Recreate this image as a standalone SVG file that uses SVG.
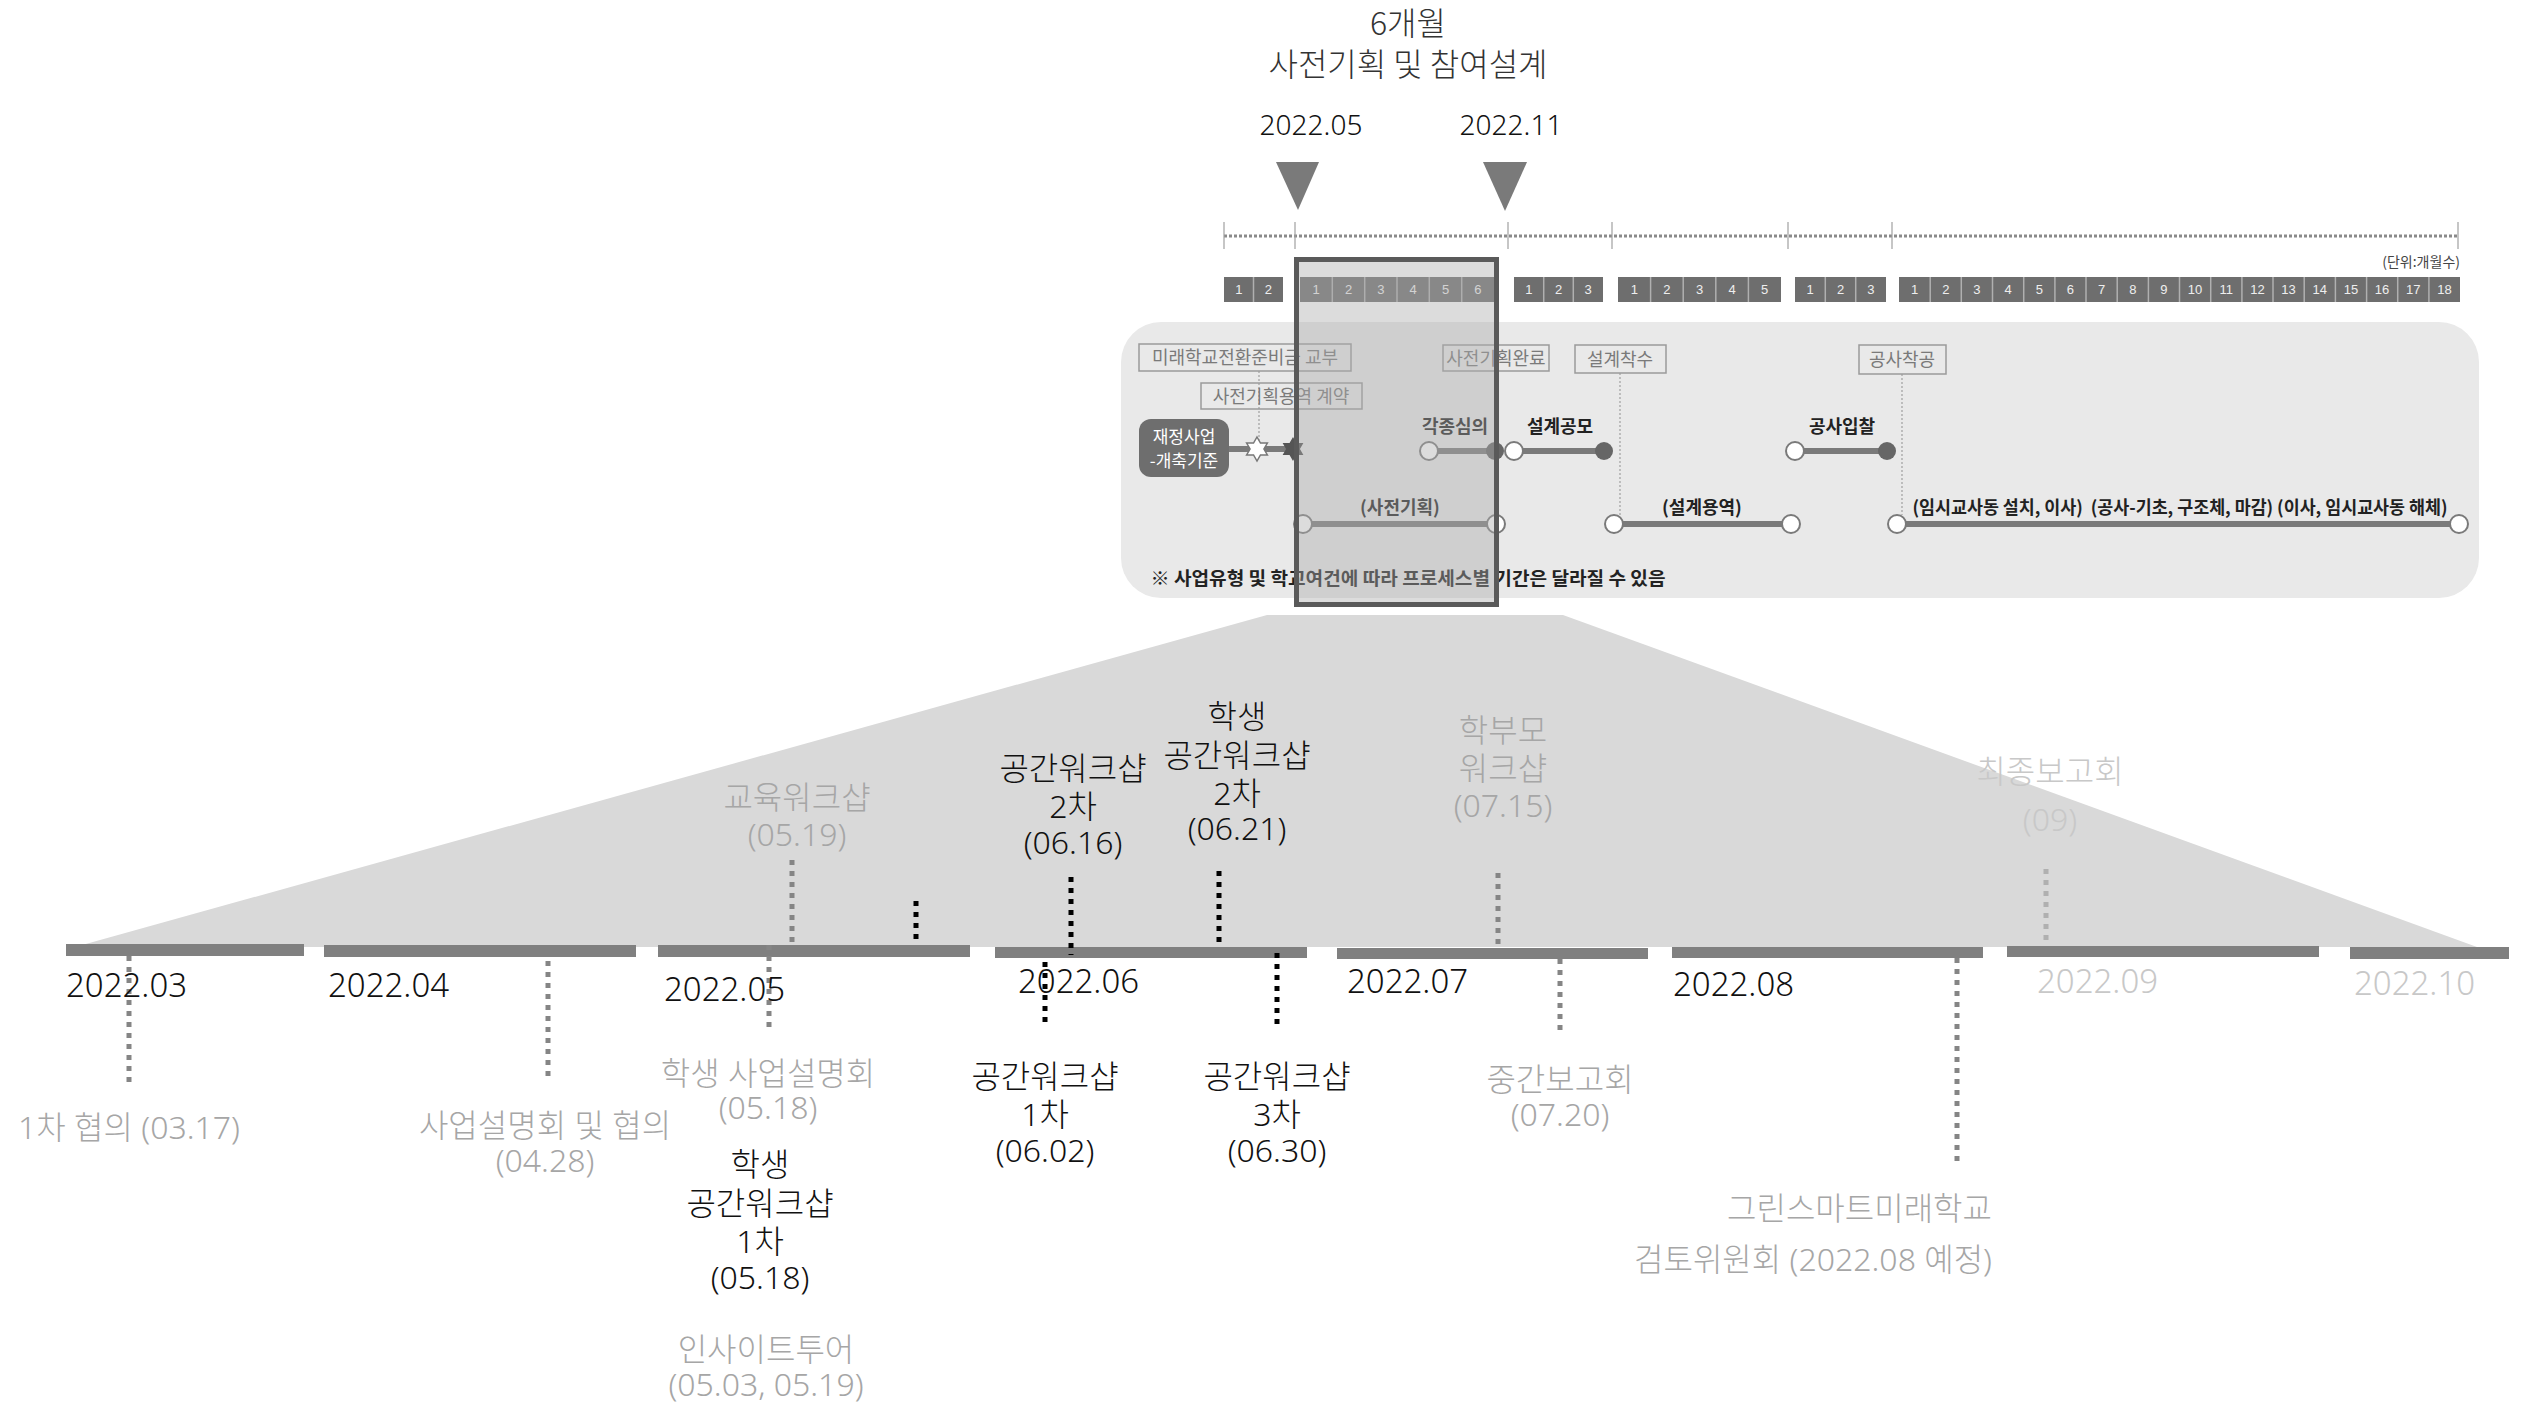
<svg xmlns="http://www.w3.org/2000/svg" width="2529" height="1405" viewBox="0 0 2529 1405">
<style>
.t{font-family:"Noto Sans","Noto Sans CJK KR",sans-serif;font-weight:300;text-anchor:middle}
.lb{font-size:32px}
.dt{font-size:33px;text-anchor:start}
.end{text-anchor:end}
.blk{fill:#111}
.gry{fill:#a6a6a6}
.lgt{fill:#c8c8c8}
.k{font-family:"Noto Sans CJK KR","Noto Sans",sans-serif;text-anchor:middle}
.bx{fill:none;stroke:#9a9a9a;stroke-width:1.5}
.bxt{font-size:18px;fill:#7a7a7a}
.bold{font-weight:700;fill:#222;font-size:18px}
.mon{font-family:"Liberation Sans",sans-serif;font-size:13px;fill:#eeeeee;text-anchor:middle}
.grp{fill:#6e6e6e}
.sep{stroke:#b0b0b0;stroke-width:1.5}
.pl{stroke:#7a7a7a;stroke-width:6}
.ho{fill:#ffffff;stroke:#7a7a7a;stroke-width:2}
.fo{fill:#666666}
.dg{stroke:#858585;stroke-width:5;stroke-dasharray:5 6;fill:none}
.db{stroke:#000000;stroke-width:5;stroke-dasharray:5 6;fill:none}
.dl{stroke:#b0b0b0;stroke-width:5;stroke-dasharray:5 6;fill:none}
.thin{stroke:#a0a0a0;stroke-width:1.2;stroke-dasharray:2 2;fill:none}
.bar{fill:#808080}
</style>
<defs>
<polygon id="star" points="0,-12 3.46,-6 10.39,-6 6.93,0 10.39,6 3.46,6 0,12 -3.46,6 -10.39,6 -6.93,0 -10.39,-6 -3.46,-6"/>
</defs>
<rect width="2529" height="1405" fill="#ffffff"/>

<!-- top header -->
<g id="header">
<text class="k" x="1408" y="35" font-size="32" font-weight="300" fill="#333">6개월</text>
<text class="k" x="1408" y="76" font-size="32" font-weight="300" fill="#333">사전기획 및 참여설계</text>
<text class="t" x="1311" y="135" font-size="28" fill="#111" font-weight="400">2022.05</text>
<text class="t" x="1511" y="135" font-size="28" fill="#111" font-weight="400">2022.11</text>
<polygon points="1276,162 1319,162 1298,210" fill="#7a7a7a"/>
<polygon points="1483,162 1527,162 1505,211" fill="#7a7a7a"/>
</g>

<!-- dotted scale line -->
<g id="scale">
<line x1="1224" y1="236" x2="2458" y2="236" stroke="#8a8a8a" stroke-width="3" stroke-dasharray="3 2"/>
<g stroke="#a0a0a0" stroke-width="1.2">
<line x1="1224" y1="222" x2="1224" y2="249"/>
<line x1="1295" y1="222" x2="1295" y2="249"/>
<line x1="1508" y1="222" x2="1508" y2="249"/>
<line x1="1612" y1="222" x2="1612" y2="249"/>
<line x1="1788" y1="222" x2="1788" y2="249"/>
<line x1="1892" y1="222" x2="1892" y2="249"/>
<line x1="2458" y1="222" x2="2458" y2="249"/>
</g>
<text x="2460" y="267" font-family="Noto Sans CJK KR,sans-serif" font-size="14" fill="#444" text-anchor="end">(단위:개월수)</text>
</g>

<!-- month boxes -->
<g id="months">
<rect class="grp" x="1224" y="277" width="59" height="25"/>
<rect class="grp" x="1300" y="277" width="194" height="25"/>
<rect class="grp" x="1514" y="277" width="89" height="25"/>
<rect class="grp" x="1618" y="277" width="163" height="25"/>
<rect class="grp" x="1795" y="277" width="91" height="25"/>
<rect class="grp" x="1899" y="277" width="561" height="25"/>
<g class="sep">
<line x1="1253.5" y1="277" x2="1253.5" y2="302"/>
<line x1="1332.3" y1="277" x2="1332.3" y2="302"/><line x1="1364.7" y1="277" x2="1364.7" y2="302"/><line x1="1397" y1="277" x2="1397" y2="302"/><line x1="1429.3" y1="277" x2="1429.3" y2="302"/><line x1="1461.7" y1="277" x2="1461.7" y2="302"/>
<line x1="1543.7" y1="277" x2="1543.7" y2="302"/><line x1="1573.3" y1="277" x2="1573.3" y2="302"/>
<line x1="1650.6" y1="277" x2="1650.6" y2="302"/><line x1="1683.2" y1="277" x2="1683.2" y2="302"/><line x1="1715.8" y1="277" x2="1715.8" y2="302"/><line x1="1748.4" y1="277" x2="1748.4" y2="302"/>
<line x1="1825.3" y1="277" x2="1825.3" y2="302"/><line x1="1855.7" y1="277" x2="1855.7" y2="302"/>
<line x1="1930.2" y1="277" x2="1930.2" y2="302"/><line x1="1961.3" y1="277" x2="1961.3" y2="302"/><line x1="1992.5" y1="277" x2="1992.5" y2="302"/><line x1="2023.7" y1="277" x2="2023.7" y2="302"/><line x1="2054.9" y1="277" x2="2054.9" y2="302"/><line x1="2086" y1="277" x2="2086" y2="302"/><line x1="2117.2" y1="277" x2="2117.2" y2="302"/><line x1="2148.4" y1="277" x2="2148.4" y2="302"/><line x1="2179.5" y1="277" x2="2179.5" y2="302"/><line x1="2210.7" y1="277" x2="2210.7" y2="302"/><line x1="2241.9" y1="277" x2="2241.9" y2="302"/><line x1="2273" y1="277" x2="2273" y2="302"/><line x1="2304.2" y1="277" x2="2304.2" y2="302"/><line x1="2335.4" y1="277" x2="2335.4" y2="302"/><line x1="2366.6" y1="277" x2="2366.6" y2="302"/><line x1="2397.7" y1="277" x2="2397.7" y2="302"/><line x1="2428.9" y1="277" x2="2428.9" y2="302"/>
</g>
<g class="mon">
<text x="1238.8" y="294">1</text><text x="1268.3" y="294">2</text>
<text x="1316.2" y="294">1</text><text x="1348.5" y="294">2</text><text x="1380.8" y="294">3</text><text x="1413.2" y="294">4</text><text x="1445.5" y="294">5</text><text x="1477.8" y="294">6</text>
<text x="1528.8" y="294">1</text><text x="1558.5" y="294">2</text><text x="1588.2" y="294">3</text>
<text x="1634.3" y="294">1</text><text x="1666.9" y="294">2</text><text x="1699.5" y="294">3</text><text x="1732.1" y="294">4</text><text x="1764.7" y="294">5</text>
<text x="1810.2" y="294">1</text><text x="1840.5" y="294">2</text><text x="1870.8" y="294">3</text>
<text x="1914.6" y="294">1</text><text x="1945.8" y="294">2</text><text x="1976.9" y="294">3</text><text x="2008.1" y="294">4</text><text x="2039.3" y="294">5</text><text x="2070.4" y="294">6</text><text x="2101.6" y="294">7</text><text x="2132.8" y="294">8</text><text x="2163.9" y="294">9</text><text x="2195.1" y="294">10</text><text x="2226.3" y="294">11</text><text x="2257.4" y="294">12</text><text x="2288.6" y="294">13</text><text x="2319.8" y="294">14</text><text x="2350.9" y="294">15</text><text x="2382.1" y="294">16</text><text x="2413.3" y="294">17</text><text x="2444.4" y="294">18</text>
</g>
</g>

<!-- process panel -->
<g id="panel">
<rect x="1121" y="322" width="1358" height="276" rx="40" fill="#e9e9e9"/>
</g>
<g id="panel-lines">
<line class="thin" x1="1259" y1="371" x2="1259" y2="440"/>
<line class="thin" x1="1620" y1="373" x2="1620" y2="515"/>
<line class="thin" x1="1902" y1="374" x2="1902" y2="515"/>
<line class="pl" x1="1229" y1="449" x2="1293" y2="449"/>
<line class="pl" x1="1429" y1="451" x2="1495" y2="451"/>
<line class="pl" x1="1514" y1="451" x2="1604" y2="451"/>
<line class="pl" x1="1795" y1="451" x2="1887" y2="451"/>
<line class="pl" x1="1303" y1="524" x2="1496" y2="524"/>
<line class="pl" x1="1614" y1="524" x2="1791" y2="524"/>
<line class="pl" x1="1897" y1="524" x2="2459" y2="524"/>
</g>
<g id="n-junbi"><rect class="bx" x="1139" y="344" width="212" height="27"/><text class="k bxt" x="1245" y="364">미래학교전환준비금 교부</text></g>
<g id="n-yongyeok"><rect class="bx" x="1201" y="383" width="161" height="26"/><text class="k bxt" x="1281" y="403">사전기획용역 계약</text></g>
<g id="n-wanryo"><rect class="bx" x="1443" y="345" width="106" height="26"/><text class="k bxt" x="1496" y="365">사전기획완료</text></g>
<g id="n-chaksu"><rect class="bx" x="1575" y="345" width="91" height="28"/><text class="k bxt" x="1620" y="366">설계착수</text></g>
<g id="n-chakgong"><rect class="bx" x="1859" y="345" width="87" height="29"/><text class="k bxt" x="1902" y="366">공사착공</text></g>
<g id="n-jaejeong"><rect x="1139" y="419" width="90" height="58" rx="12" fill="#6e6e6e"/><text class="k" x="1184" y="443" font-size="17" fill="#fff">재정사업</text><text class="k" x="1184" y="467" font-size="17" fill="#fff">-개축기준</text></g>
<g id="n-stars"><use href="#star" x="1257" y="449" fill="#fff" stroke="#777" stroke-width="1.5"/><use href="#star" x="1293" y="449" fill="#555"/></g>
<g id="n-simui"><text class="k bold" x="1455" y="433">각종심의</text><circle class="ho" cx="1429" cy="451" r="9"/><circle class="fo" cx="1495" cy="451" r="9"/></g>
<g id="n-gongmo"><text class="k bold" x="1560" y="433">설계공모</text><circle class="ho" cx="1514" cy="451" r="9"/><circle class="fo" cx="1604" cy="451" r="9"/></g>
<g id="n-ipchal"><text class="k bold" x="1842" y="433">공사입찰</text><circle class="ho" cx="1795" cy="451" r="9"/><circle class="fo" cx="1887" cy="451" r="9"/></g>
<g id="n-sajeon"><text class="k bold" x="1400" y="514" font-size="17" fill="#444">(사전기획)</text><circle class="ho" cx="1303" cy="524" r="9"/><circle class="ho" cx="1496" cy="524" r="9"/></g>
<g id="n-yongyeok2"><text class="k bold" x="1702" y="514" font-size="17" fill="#444">(설계용역)</text><circle class="ho" cx="1614" cy="524" r="9"/><circle class="ho" cx="1791" cy="524" r="9"/></g>
<g id="n-gongsa"><text class="k bold" x="2180" y="514" font-size="17" fill="#444" textLength="535" lengthAdjust="spacingAndGlyphs">(임시교사동 설치, 이사)&#160;&#160;(공사-기초, 구조체, 마감) (이사, 임시교사동 해체)</text><circle class="ho" cx="1897" cy="524" r="9"/><circle class="ho" cx="2459" cy="524" r="9"/></g>
<g id="n-note"><text class="k bold" x="1408" y="585" fill="#111" textLength="515" lengthAdjust="spacingAndGlyphs">※ 사업유형 및 학교여건에 따라 프로세스별 기간은 달라질 수 있음</text></g>

<!-- highlight -->
<g id="highlight">
<rect x="1296.5" y="259.5" width="200" height="345" fill="#ababab" fill-opacity="0.42" stroke="#5a5a5a" stroke-width="5"/>
</g>

<!-- zoom trapezoid -->
<g id="zoom">
<polygon points="1267,615 1563,615 2477,947 75,947" fill="#d9d9d9"/>
</g>

<!-- timeline bars -->
<g id="bars">
<rect class="bar" x="66" y="944" width="238" height="12"/>
<rect class="bar" x="324" y="945" width="312" height="12"/>
<rect class="bar" x="658" y="945" width="312" height="12"/>
<rect class="bar" x="995" y="947" width="312" height="11"/>
<rect class="bar" x="1337" y="948" width="311" height="11"/>
<rect class="bar" x="1672" y="947" width="311" height="11"/>
<rect class="bar" x="2007" y="946" width="312" height="11"/>
<rect class="bar" x="2350" y="947" width="159" height="12"/>
</g>

<!-- connectors -->
<g id="connectors">
<line class="dg" x1="129" y1="956" x2="129" y2="1086"/>
<line class="dg" x1="548" y1="961" x2="548" y2="1082"/>
<line class="dg" x1="792" y1="860" x2="792" y2="945"/>
<line class="dg" x1="769" y1="945" x2="769" y2="1030"/>
<line class="db" x1="916" y1="901" x2="916" y2="942"/>
<line class="db" x1="1071" y1="877" x2="1071" y2="955"/>
<line class="db" x1="1219" y1="871" x2="1219" y2="947"/>
<line class="db" x1="1045" y1="962" x2="1045" y2="1027"/>
<line class="db" x1="1277" y1="953" x2="1277" y2="1030"/>
<line class="dg" x1="1498" y1="873" x2="1498" y2="948"/>
<line class="dg" x1="1560" y1="959" x2="1560" y2="1033"/>
<line class="dl" x1="2046" y1="869" x2="2046" y2="945"/>
<line class="dg" x1="1957" y1="958" x2="1957" y2="1163" stroke-width="4"/>
</g>

<!-- month dates -->
<g id="dates" class="t dt">
<text class="blk" x="66" y="997">2022.03</text>
<text class="blk" x="328" y="997">2022.04</text>
<text class="blk" x="664" y="1001">2022.05</text>
<text class="blk" x="1018" y="993">2022.06</text>
<text class="blk" x="1347" y="993">2022.07</text>
<text class="blk" x="1673" y="996">2022.08</text>
<text class="lgt" x="2037" y="993">2022.09</text>
<text class="lgt" x="2354" y="995">2022.10</text>
</g>

<!-- event labels -->
<g id="e-0317"><text class="t lb gry" x="129" y="1139">1차 협의 (03.17)</text></g>
<g id="e-0428"><text class="t lb gry" x="545" y="1137">사업설명회 및 협의<tspan x="545" dy="35">(04.28)</tspan></text></g>
<g id="e-0519"><text class="t lb gry" x="797" y="809">교육워크샵<tspan x="797" dy="37">(05.19)</tspan></text></g>
<g id="e-0518a"><text class="t lb gry" x="768" y="1085">학생 사업설명회<tspan x="768" dy="34">(05.18)</tspan></text></g>
<g id="e-0518b"><text class="t lb blk" x="760" y="1176">학생<tspan x="760" dy="39">공간워크샵</tspan><tspan x="760" dy="38">1차</tspan><tspan x="760" dy="36">(05.18)</tspan></text></g>
<g id="e-insight"><text class="t lb gry" x="766" y="1361">인사이트투어<tspan x="766" dy="35">(05.03, 05.19)</tspan></text></g>
<g id="e-0616"><text class="t lb blk" x="1073" y="780">공간워크샵<tspan x="1073" dy="38">2차</tspan><tspan x="1073" dy="36">(06.16)</tspan></text></g>
<g id="e-0621"><text class="t lb blk" x="1237" y="728">학생<tspan x="1237" dy="39">공간워크샵</tspan><tspan x="1237" dy="38">2차</tspan><tspan x="1237" dy="35">(06.21)</tspan></text></g>
<g id="e-0602"><text class="t lb blk" x="1045" y="1088">공간워크샵<tspan x="1045" dy="38">1차</tspan><tspan x="1045" dy="36">(06.02)</tspan></text></g>
<g id="e-0630"><text class="t lb blk" x="1277" y="1088">공간워크샵<tspan x="1277" dy="38">3차</tspan><tspan x="1277" dy="36">(06.30)</tspan></text></g>
<g id="e-0715"><text class="t lb gry" x="1503" y="742">학부모<tspan x="1503" dy="38">워크샵</tspan><tspan x="1503" dy="37">(07.15)</tspan></text></g>
<g id="e-0720"><text class="t lb gry" x="1560" y="1091">중간보고회<tspan x="1560" dy="35">(07.20)</tspan></text></g>
<g id="e-09"><text class="t lb lgt" x="2050" y="783">최종보고회<tspan x="2050" dy="48">(09)</tspan></text></g>
<g id="e-green"><text class="t lb gry end" x="1992" y="1220">그린스마트미래학교<tspan x="1992" dy="51">검토위원회 (2022.08 예정)</tspan></text></g>
</svg>
